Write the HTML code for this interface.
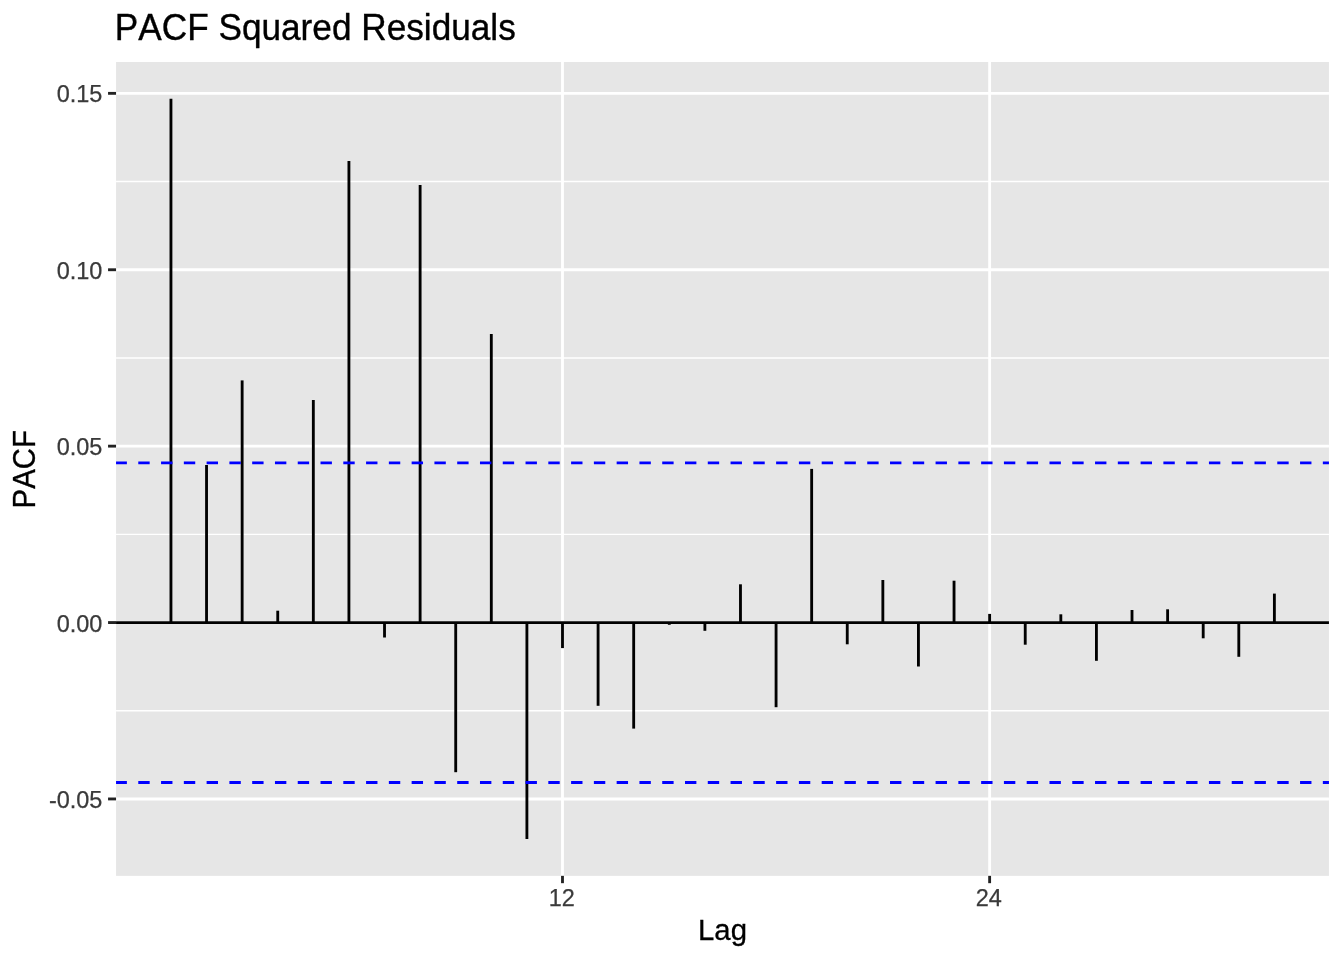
<!DOCTYPE html><html><head><meta charset="utf-8"><title>PACF Squared Residuals</title>
<style>html,body{margin:0;padding:0;background:#fff}svg{display:block}text{font-family:"Liberation Sans",Arial,Helvetica,sans-serif;font-kerning:none}</style></head><body>
<svg width="1344" height="960" viewBox="0 0 1344 960">
<rect width="1344" height="960" fill="#fff"/>
<rect x="116.05" y="62.0" width="1212.90" height="813.85" fill="#E6E6E6"/>
<g stroke="#fff" stroke-width="1.42" fill="none">
<line x1="116.05" x2="1328.95" y1="181.55" y2="181.55"/>
<line x1="116.05" x2="1328.95" y1="357.95" y2="357.95"/>
<line x1="116.05" x2="1328.95" y1="534.35" y2="534.35"/>
<line x1="116.05" x2="1328.95" y1="710.75" y2="710.75"/>
</g>
<g stroke="#fff" stroke-width="2.85" fill="none">
<line x1="116.05" x2="1328.95" y1="93.35" y2="93.35"/>
<line x1="116.05" x2="1328.95" y1="269.75" y2="269.75"/>
<line x1="116.05" x2="1328.95" y1="446.15" y2="446.15"/>
<line x1="116.05" x2="1328.95" y1="622.55" y2="622.55"/>
<line x1="116.05" x2="1328.95" y1="798.95" y2="798.95"/>
<line x1="562.49" x2="562.49" y1="62.0" y2="875.85"/>
<line x1="989.63" x2="989.63" y1="62.0" y2="875.85"/>
</g>
<g stroke="#000" stroke-width="2.85" fill="none">
<line x1="170.95" x2="170.95" y1="622.55" y2="98.7"/>
<line x1="206.54" x2="206.54" y1="622.55" y2="465"/>
<line x1="242.14" x2="242.14" y1="622.55" y2="380.4"/>
<line x1="277.74" x2="277.74" y1="622.55" y2="610.7"/>
<line x1="313.33" x2="313.33" y1="622.55" y2="400"/>
<line x1="348.92" x2="348.92" y1="622.55" y2="161.1"/>
<line x1="384.52" x2="384.52" y1="622.55" y2="637.5"/>
<line x1="420.12" x2="420.12" y1="622.55" y2="185"/>
<line x1="455.71" x2="455.71" y1="622.55" y2="772.1999999999999"/>
<line x1="491.31" x2="491.31" y1="622.55" y2="333.9"/>
<line x1="526.90" x2="526.90" y1="622.55" y2="839.0"/>
<line x1="562.49" x2="562.49" y1="622.55" y2="648.1"/>
<line x1="598.09" x2="598.09" y1="622.55" y2="705.8"/>
<line x1="633.68" x2="633.68" y1="622.55" y2="728.6"/>
<line x1="669.28" x2="669.28" y1="622.55" y2="624.8"/>
<line x1="704.88" x2="704.88" y1="622.55" y2="630.8"/>
<line x1="740.47" x2="740.47" y1="622.55" y2="584.3"/>
<line x1="776.07" x2="776.07" y1="622.55" y2="707.1999999999999"/>
<line x1="811.66" x2="811.66" y1="622.55" y2="468.9"/>
<line x1="847.25" x2="847.25" y1="622.55" y2="644.3"/>
<line x1="882.85" x2="882.85" y1="622.55" y2="580"/>
<line x1="918.44" x2="918.44" y1="622.55" y2="666.5"/>
<line x1="954.04" x2="954.04" y1="622.55" y2="580.7"/>
<line x1="989.63" x2="989.63" y1="622.55" y2="613.9"/>
<line x1="1025.23" x2="1025.23" y1="622.55" y2="644.6999999999999"/>
<line x1="1060.83" x2="1060.83" y1="622.55" y2="614.3"/>
<line x1="1096.42" x2="1096.42" y1="622.55" y2="660.8"/>
<line x1="1132.01" x2="1132.01" y1="622.55" y2="610"/>
<line x1="1167.61" x2="1167.61" y1="622.55" y2="609.3"/>
<line x1="1203.20" x2="1203.20" y1="622.55" y2="638.3"/>
<line x1="1238.80" x2="1238.80" y1="622.55" y2="656.8"/>
<line x1="1274.39" x2="1274.39" y1="622.55" y2="593.6"/>
<line x1="116.05" x2="1328.95" y1="622.55" y2="622.55"/>
</g>
<g stroke="#0000FF" stroke-width="2.85" stroke-dasharray="11.39 11.39" stroke-dashoffset="0.55" fill="none">
<line x1="116.05" x2="1328.95" y1="462.85" y2="462.85"/>
<line x1="116.05" x2="1328.95" y1="782.5" y2="782.5"/>
</g>
<g stroke="#222" stroke-width="2.85" fill="none">
<line x1="108.05" x2="116.05" y1="93.35" y2="93.35"/>
<line x1="108.05" x2="116.05" y1="269.75" y2="269.75"/>
<line x1="108.05" x2="116.05" y1="446.15" y2="446.15"/>
<line x1="108.05" x2="116.05" y1="622.55" y2="622.55"/>
<line x1="108.05" x2="116.05" y1="798.95" y2="798.95"/>
<line x1="562.49" x2="562.49" y1="875.85" y2="883.18"/>
<line x1="989.63" x2="989.63" y1="875.85" y2="883.18"/>
</g>
<text transform="translate(102.40,102.00) scale(1,1)" font-size="23.47px" text-anchor="end" fill="#3A3A3A" stroke="#3A3A3A" stroke-width="0.25">0.15</text>
<text transform="translate(102.40,279.00) scale(1,1)" font-size="23.47px" text-anchor="end" fill="#3A3A3A" stroke="#3A3A3A" stroke-width="0.25">0.10</text>
<text transform="translate(102.40,455.00) scale(1,1)" font-size="23.47px" text-anchor="end" fill="#3A3A3A" stroke="#3A3A3A" stroke-width="0.25">0.05</text>
<text transform="translate(102.40,632.00) scale(1,1)" font-size="23.47px" text-anchor="end" fill="#3A3A3A" stroke="#3A3A3A" stroke-width="0.25">0.00</text>
<text transform="translate(102.40,808.00) scale(1,1)" font-size="23.47px" text-anchor="end" fill="#3A3A3A" stroke="#3A3A3A" stroke-width="0.25">-0.05</text>
<text transform="translate(561.69,906.00) scale(1,1)" font-size="23.47px" text-anchor="middle" fill="#3A3A3A" stroke="#3A3A3A" stroke-width="0.25">12</text>
<text transform="translate(988.84,906.00) scale(1,1)" font-size="23.47px" text-anchor="middle" fill="#3A3A3A" stroke="#3A3A3A" stroke-width="0.25">24</text>
<text transform="translate(722.50,939.80) scale(1,1.035)" font-size="29.33px" text-anchor="middle" fill="#000" stroke="#000" stroke-width="0.3">Lag</text>
<text transform="translate(35.40,469.30) rotate(-90) scale(1,1.045)" font-size="29.33px" text-anchor="middle" fill="#000" stroke="#000" stroke-width="0.3">PACF</text>
<text transform="translate(114.80,39.70) scale(1,1.035)" font-size="35.2px" text-anchor="start" fill="#000" stroke="#000" stroke-width="0.35">PACF Squared Residuals</text>
</svg></body></html>
